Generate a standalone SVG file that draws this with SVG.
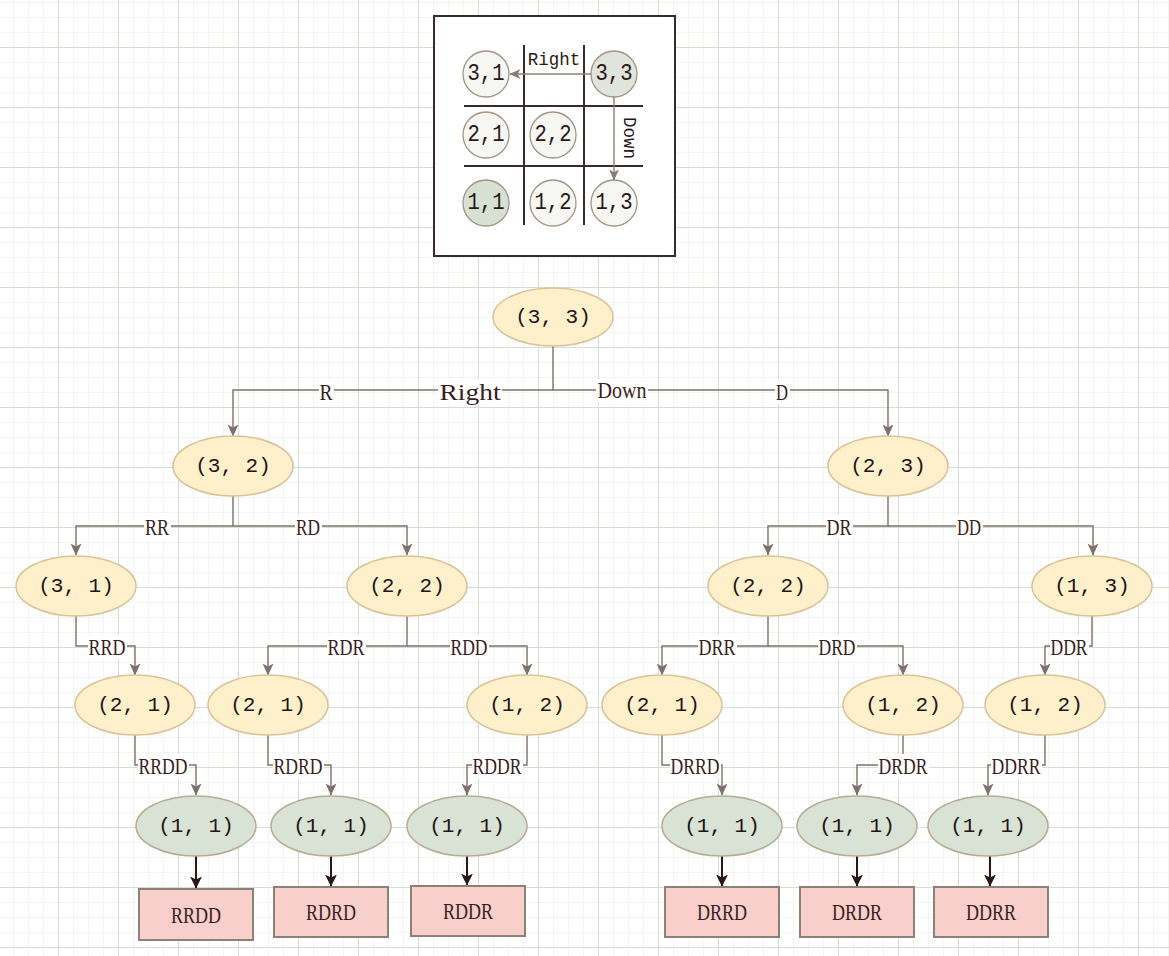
<svg xmlns="http://www.w3.org/2000/svg" width="1169" height="956" viewBox="0 0 1169 956">
<defs>
<pattern id="grid" x="58" y="47" width="60" height="60" patternUnits="userSpaceOnUse">
<rect width="60" height="60" fill="#ffffff"/>
<path d="M15.5,0V60M30.5,0V60M45.5,0V60M0,15.5H60M0,30.5H60M0,45.5H60" stroke="#f4f4f1" stroke-width="1"/>
<path d="M0.5,0V60M0,0.5H60" stroke="#d5ded2" stroke-width="1"/>
</pattern>
<marker id="arr" viewBox="0 0 12 11" refX="11.5" refY="5.5" markerWidth="12" markerHeight="11" markerUnits="userSpaceOnUse" orient="auto">
<path d="M0,0 L12,5.5 L0,11 L3,5.5 z" fill="#7d716a"/>
</marker>
<marker id="arrd" viewBox="0 0 12 12" refX="11.5" refY="6" markerWidth="12" markerHeight="12" markerUnits="userSpaceOnUse" orient="auto">
<path d="M0,0 L12,6 L0,12 L3,6 z" fill="#2b1717"/>
</marker>
<marker id="arrs" viewBox="0 0 12 11" refX="11.5" refY="5.5" markerWidth="11" markerHeight="10" markerUnits="userSpaceOnUse" orient="auto">
<path d="M0,0 L12,5.5 L0,11 L3,5.5 z" fill="#8a7f78"/>
</marker>
</defs>
<style>
.edge{fill:none;stroke:#7d716a;stroke-width:1.4;marker-end:url(#arr)}
.dark{fill:none;stroke:#2b1717;stroke-width:2;marker-end:url(#arrd)}
.lbl{font-family:"Liberation Serif",serif;font-size:24px;fill:#3a1d1d;text-anchor:middle;dominant-baseline:central}
.bg{fill:#ffffff}
.yel{fill:#fdf0cb;stroke:#dbc198;stroke-width:1.5}
.grn{fill:#d8e2d5;stroke:#b6ab93;stroke-width:1.5}
.nt{font-family:"Liberation Mono",monospace;font-size:21px;fill:#221212;text-anchor:middle;dominant-baseline:central}
.leaf{fill:#f8cfcb;stroke:#8d8075;stroke-width:2}
.cell{fill:#f6f6f2;stroke:#a39485;stroke-width:1.3}
.ct{font-family:"Liberation Mono",monospace;font-size:23px;fill:#2a1818;text-anchor:middle;dominant-baseline:central}
.gl{stroke:#3b2a2a;stroke-width:2;fill:none}
</style>
<rect width="1169" height="956" fill="url(#grid)"/>

<g id="state-grid">
<rect x="434" y="16" width="241" height="240" fill="#ffffff" stroke="#3b2a2a" stroke-width="2"/>
<path class="gl" d="M524,45V225M584,45V225M464,106H643M464,166H643"/>
<circle class="cell" cx="486" cy="74" r="23"/><text class="ct" x="486" y="74" textLength="37" lengthAdjust="spacingAndGlyphs">3,1</text>
<circle class="cell" cx="614" cy="74" r="23" style="fill:#dfe5da"/><text class="ct" x="614" y="74" textLength="37" lengthAdjust="spacingAndGlyphs">3,3</text>
<circle class="cell" cx="486" cy="135" r="23"/><text class="ct" x="486" y="135" textLength="37" lengthAdjust="spacingAndGlyphs">2,1</text>
<circle class="cell" cx="553" cy="135" r="23"/><text class="ct" x="553" y="135" textLength="37" lengthAdjust="spacingAndGlyphs">2,2</text>
<circle class="cell" cx="486" cy="203" r="23" style="fill:#d6e0d3"/><text class="ct" x="486" y="203" textLength="37" lengthAdjust="spacingAndGlyphs">1,1</text>
<circle class="cell" cx="553" cy="203" r="23"/><text class="ct" x="553" y="203" textLength="37" lengthAdjust="spacingAndGlyphs">1,2</text>
<circle class="cell" cx="614" cy="203" r="23"/><text class="ct" x="614" y="203" textLength="37" lengthAdjust="spacingAndGlyphs">1,3</text>
<path d="M591,74H510" stroke="#8a7f78" stroke-width="1.4" fill="none" marker-end="url(#arrs)"/>
<path d="M614,97V180" stroke="#8a7f78" stroke-width="1.4" fill="none" marker-end="url(#arrs)"/>
<text x="554" y="60" font-family="Liberation Mono, monospace" font-size="17.5" fill="#2a1818" text-anchor="middle" dominant-baseline="central">Right</text>
<text x="629" y="138" font-family="Liberation Mono, monospace" font-size="17.5" fill="#2a1818" text-anchor="middle" dominant-baseline="central" transform="rotate(90 629 138)">Down</text>
</g>

<g id="connectors">
<path class="edge" d="M553,346V390H233V436"/>
<path class="edge" d="M553,390H888V436"/>
<path class="edge" d="M233,496V526H76V555"/>
<path class="edge" d="M233,526H407V555"/>
<path class="edge" d="M888,496V526H768V555"/>
<path class="edge" d="M888,526H1093V555"/>
<path class="edge" d="M76,616V646H135V675"/>
<path class="edge" d="M407,616V646H268V675"/>
<path class="edge" d="M407,646H527V675"/>
<path class="edge" d="M768,616V646H662V675"/>
<path class="edge" d="M768,646H903V675"/>
<path class="edge" d="M1092,616V646H1045V675"/>
<path class="edge" d="M135,735V765H196V795"/>
<path class="edge" d="M268,735V765H331V795"/>
<path class="edge" d="M527,735V765H467V795"/>
<path class="edge" d="M662,735V765H722V795"/>
<path class="edge" d="M903,735V765H857V795"/>
<path class="edge" d="M1045,735V765H988V795"/>
<path class="dark" d="M196,856V888"/>
<path class="dark" d="M331,856V886"/>
<path class="dark" d="M467,856V885"/>
<path class="dark" d="M722,856V886"/>
<path class="dark" d="M857,856V886"/>
<path class="dark" d="M990,856V886"/>
<g id="edge-labels">
<rect class="bg" x="319" y="380" width="15" height="24"/><text class="lbl" x="326" y="392" textLength="13" lengthAdjust="spacingAndGlyphs">R</text>
<rect class="bg" x="438" y="379" width="64" height="26"/><text class="lbl" x="470" y="392" textLength="61" lengthAdjust="spacingAndGlyphs">Right</text>
<rect class="bg" x="596" y="379" width="52" height="24"/><text class="lbl" x="622" y="390" textLength="49" lengthAdjust="spacingAndGlyphs">Down</text>
<rect class="bg" x="775" y="380" width="15" height="24"/><text class="lbl" x="782" y="392" textLength="12" lengthAdjust="spacingAndGlyphs">D</text>
<rect class="bg" x="144" y="515" width="27" height="24"/><text class="lbl" x="157" y="527" textLength="24" lengthAdjust="spacingAndGlyphs">RR</text>
<rect class="bg" x="295" y="515" width="27" height="24"/><text class="lbl" x="308" y="527" textLength="24" lengthAdjust="spacingAndGlyphs">RD</text>
<rect class="bg" x="826" y="515" width="27" height="24"/><text class="lbl" x="839" y="527" textLength="25" lengthAdjust="spacingAndGlyphs">DR</text>
<rect class="bg" x="956" y="515" width="27" height="24"/><text class="lbl" x="969" y="527" textLength="24" lengthAdjust="spacingAndGlyphs">DD</text>
<rect class="bg" x="88" y="635" width="39" height="24"/><text class="lbl" x="107" y="647" textLength="37" lengthAdjust="spacingAndGlyphs">RRD</text>
<rect class="bg" x="327" y="635" width="39" height="24"/><text class="lbl" x="346" y="647" textLength="37" lengthAdjust="spacingAndGlyphs">RDR</text>
<rect class="bg" x="450" y="635" width="39" height="24"/><text class="lbl" x="469" y="647" textLength="37" lengthAdjust="spacingAndGlyphs">RDD</text>
<rect class="bg" x="698" y="635" width="39" height="24"/><text class="lbl" x="717" y="647" textLength="37" lengthAdjust="spacingAndGlyphs">DRR</text>
<rect class="bg" x="818" y="635" width="39" height="24"/><text class="lbl" x="837" y="647" textLength="37" lengthAdjust="spacingAndGlyphs">DRD</text>
<rect class="bg" x="1050" y="635" width="39" height="24"/><text class="lbl" x="1069" y="647" textLength="37" lengthAdjust="spacingAndGlyphs">DDR</text>
<rect class="bg" x="138" y="754" width="51" height="24"/><text class="lbl" x="163" y="766" textLength="49" lengthAdjust="spacingAndGlyphs">RRDD</text>
<rect class="bg" x="273" y="754" width="51" height="24"/><text class="lbl" x="298" y="766" textLength="49" lengthAdjust="spacingAndGlyphs">RDRD</text>
<rect class="bg" x="472" y="754" width="51" height="24"/><text class="lbl" x="497" y="766" textLength="49" lengthAdjust="spacingAndGlyphs">RDDR</text>
<rect class="bg" x="670" y="754" width="51" height="24"/><text class="lbl" x="695" y="766" textLength="49" lengthAdjust="spacingAndGlyphs">DRRD</text>
<rect class="bg" x="878" y="754" width="51" height="24"/><text class="lbl" x="903" y="766" textLength="49" lengthAdjust="spacingAndGlyphs">DRDR</text>
<rect class="bg" x="991" y="754" width="51" height="24"/><text class="lbl" x="1016" y="766" textLength="49" lengthAdjust="spacingAndGlyphs">DDRR</text>
</g>
</g>

<g id="n-root"><ellipse class="yel" cx="553" cy="317" rx="60" ry="29"/><text class="nt" x="553" y="317">(3, 3)</text></g>
<g id="n-32"><ellipse class="yel" cx="233" cy="466" rx="60" ry="30"/><text class="nt" x="233" y="466">(3, 2)</text></g>
<g id="n-23"><ellipse class="yel" cx="888" cy="466" rx="60" ry="30"/><text class="nt" x="888" y="466">(2, 3)</text></g>
<g id="n-31"><ellipse class="yel" cx="76" cy="586" rx="60" ry="30"/><text class="nt" x="76" y="586">(3, 1)</text></g>
<g id="n-22a"><ellipse class="yel" cx="407" cy="586" rx="60" ry="30"/><text class="nt" x="407" y="586">(2, 2)</text></g>
<g id="n-22b"><ellipse class="yel" cx="768" cy="586" rx="60" ry="30"/><text class="nt" x="768" y="586">(2, 2)</text></g>
<g id="n-13"><ellipse class="yel" cx="1092" cy="586" rx="60" ry="30"/><text class="nt" x="1092" y="586">(1, 3)</text></g>
<g id="n-21a"><ellipse class="yel" cx="135" cy="705" rx="60" ry="30"/><text class="nt" x="135" y="705">(2, 1)</text></g>
<g id="n-21b"><ellipse class="yel" cx="268" cy="705" rx="60" ry="30"/><text class="nt" x="268" y="705">(2, 1)</text></g>
<g id="n-12a"><ellipse class="yel" cx="527" cy="705" rx="60" ry="30"/><text class="nt" x="527" y="705">(1, 2)</text></g>
<g id="n-21c"><ellipse class="yel" cx="662" cy="705" rx="60" ry="30"/><text class="nt" x="662" y="705">(2, 1)</text></g>
<g id="n-12b"><ellipse class="yel" cx="903" cy="705" rx="60" ry="30"/><text class="nt" x="903" y="705">(1, 2)</text></g>
<g id="n-12c"><ellipse class="yel" cx="1045" cy="705" rx="60" ry="30"/><text class="nt" x="1045" y="705">(1, 2)</text></g>
<g id="n-11a"><ellipse class="grn" cx="196" cy="826" rx="60" ry="30"/><text class="nt" x="196" y="826">(1, 1)</text></g>
<g id="n-11b"><ellipse class="grn" cx="331" cy="826" rx="60" ry="30"/><text class="nt" x="331" y="826">(1, 1)</text></g>
<g id="n-11c"><ellipse class="grn" cx="467" cy="826" rx="60" ry="30"/><text class="nt" x="467" y="826">(1, 1)</text></g>
<g id="n-11d"><ellipse class="grn" cx="722" cy="826" rx="60" ry="30"/><text class="nt" x="722" y="826">(1, 1)</text></g>
<g id="n-11e"><ellipse class="grn" cx="857" cy="826" rx="60" ry="30"/><text class="nt" x="857" y="826">(1, 1)</text></g>
<g id="n-11f"><ellipse class="grn" cx="988" cy="826" rx="60" ry="30"/><text class="nt" x="988" y="826">(1, 1)</text></g>

<g id="leaf-RRDD"><rect class="leaf" x="139" y="889" width="114" height="51"/><text class="lbl" x="196" y="915" textLength="50" lengthAdjust="spacingAndGlyphs">RRDD</text></g>
<g id="leaf-RDRD"><rect class="leaf" x="274" y="887" width="114" height="50"/><text class="lbl" x="331" y="912" textLength="50" lengthAdjust="spacingAndGlyphs">RDRD</text></g>
<g id="leaf-RDDR"><rect class="leaf" x="411" y="886" width="114" height="50"/><text class="lbl" x="468" y="911" textLength="50" lengthAdjust="spacingAndGlyphs">RDDR</text></g>
<g id="leaf-DRRD"><rect class="leaf" x="665" y="887" width="114" height="50"/><text class="lbl" x="722" y="912" textLength="50" lengthAdjust="spacingAndGlyphs">DRRD</text></g>
<g id="leaf-DRDR"><rect class="leaf" x="800" y="887" width="114" height="50"/><text class="lbl" x="857" y="912" textLength="50" lengthAdjust="spacingAndGlyphs">DRDR</text></g>
<g id="leaf-DDRR"><rect class="leaf" x="934" y="887" width="114" height="50"/><text class="lbl" x="991" y="912" textLength="50" lengthAdjust="spacingAndGlyphs">DDRR</text></g>
</svg>
